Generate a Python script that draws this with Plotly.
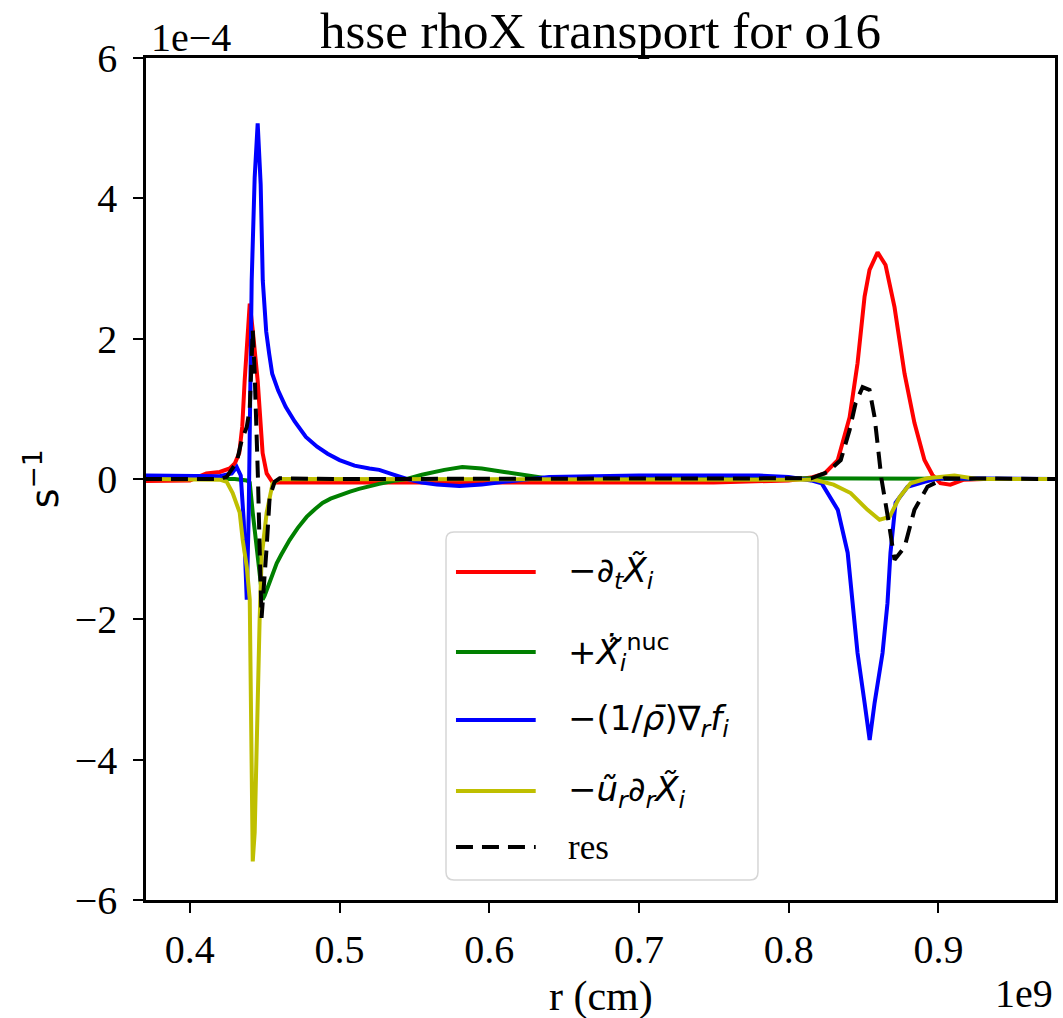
import plotly.graph_objects as go

# ---------------- data (r in 1e9 cm, values in 1e-4 s^-1) ----------------
R_UNIT = 1e9
V_UNIT = 1e-4

r_red = [0.370, 0.400, 0.411, 0.420, 0.4266, 0.4300, 0.4330, 0.4350, 0.4366, 0.4386,
         0.4400, 0.4420, 0.4433, 0.4453, 0.4486, 0.4513, 0.4553, 0.4700, 0.5500, 0.6500,
         0.7500, 0.8000, 0.8150, 0.8240, 0.8328, 0.8407, 0.8460, 0.8507, 0.8540, 0.8594,
         0.8647, 0.8707, 0.8774, 0.8840, 0.8907, 0.8960, 0.9013, 0.9080, 0.9170, 0.9300,
         0.9780]
v_red = [-0.03, -0.02, 0.08, 0.10, 0.15, 0.22, 0.37, 0.75, 1.40, 2.12,
         2.50, 2.12, 1.88, 1.40, 0.37, 0.08, -0.05, -0.05, -0.05, -0.05,
         -0.05, -0.02, 0.02, 0.08, 0.27, 0.88, 1.65, 2.60, 2.98, 3.23,
         3.05, 2.45, 1.50, 0.80, 0.27, 0.06, -0.06, -0.08, -0.01, 0.0,
         0.0]

r_green = [0.370, 0.430, 0.4380, 0.4400, 0.4420, 0.4486, 0.4500, 0.4520, 0.4553, 0.4580,
           0.4610, 0.4666, 0.4720, 0.4780, 0.4835, 0.4886, 0.4940, 0.5000, 0.5070, 0.5130,
           0.5200, 0.5265, 0.5380, 0.5450, 0.5550, 0.5700, 0.5820, 0.5950, 0.6100, 0.6250,
           0.6380, 0.6600, 0.8000, 0.9780]
v_green = [0.0, 0.0, -0.02, -0.05, -0.48, -1.72, -1.66, -1.55, -1.34, -1.20,
           -1.08, -0.87, -0.70, -0.54, -0.43, -0.34, -0.28, -0.23, -0.18, -0.14,
           -0.10, -0.07, -0.02, 0.0, 0.06, 0.13, 0.17, 0.15, 0.10, 0.05,
           0.01, 0.0, 0.01, 0.0]

r_blue = [0.370, 0.400, 0.420, 0.428, 0.4313, 0.4340, 0.4360, 0.4380, 0.4393, 0.4413,
          0.4433, 0.4453, 0.4473, 0.4487, 0.4510, 0.4530, 0.4550, 0.4590, 0.4640, 0.4700,
          0.4775, 0.4850, 0.4920, 0.5000, 0.5100, 0.5200, 0.5265, 0.5350, 0.5450, 0.5550,
          0.5650, 0.5800, 0.5950, 0.6100, 0.6250, 0.6400, 0.7000, 0.7800, 0.8000, 0.8150,
          0.8220, 0.8328, 0.8394, 0.8427, 0.8460, 0.8507, 0.8541, 0.8574, 0.8627, 0.8660,
          0.8680, 0.8714, 0.8794, 0.8907, 0.9000, 0.9780]
v_blue = [0.05, 0.05, 0.04, 0.08, 0.17, 0.05, -0.60, -1.72, -0.50, 2.83,
          4.30, 5.07, 4.20, 2.83, 2.10, 1.78, 1.50, 1.26, 1.03, 0.82,
          0.60, 0.46, 0.36, 0.27, 0.19, 0.15, 0.13, 0.07, 0.0, -0.05,
          -0.08, -0.10, -0.08, -0.04, 0.0, 0.03, 0.05, 0.05, 0.03, -0.02,
          -0.06, -0.44, -1.05, -1.77, -2.48, -3.19, -3.72, -3.19, -2.48, -1.77,
          -1.05, -0.34, -0.11, -0.04, 0.01, 0.0]

r_yellow = [0.370, 0.420, 0.4246, 0.4286, 0.4333, 0.4353, 0.4380, 0.4400, 0.4420, 0.4433,
            0.4466, 0.4480, 0.4513, 0.4553, 0.4600, 0.8000, 0.8174, 0.8300, 0.8414, 0.8527,
            0.8607, 0.8674, 0.8740, 0.8814, 0.8927, 0.9107, 0.9260, 0.9780]
v_yellow = [0.0, -0.01, -0.04, -0.20, -0.48, -0.87, -1.25, -1.72, -5.45, -5.04,
            -2.00, -1.10, -0.48, -0.06, 0.0, 0.0, -0.01, -0.08, -0.20, -0.44,
            -0.58, -0.54, -0.26, -0.06, 0.01, 0.05, 0.0, 0.0]

r_res = [0.370, 0.420, 0.4246, 0.4313, 0.4346, 0.4380, 0.4400, 0.4413, 0.4420, 0.4433,
         0.4443, 0.4455, 0.4466, 0.4479, 0.4513, 0.4533, 0.4566, 0.4600, 0.5000, 0.8000,
         0.8150, 0.8260, 0.8348, 0.8407, 0.8447, 0.8494, 0.8540, 0.8574, 0.8620, 0.8667,
         0.8707, 0.8774, 0.8840, 0.8927, 0.9040, 0.9780]
v_res = [0.0, 0.0, 0.03, 0.24, 0.55, 0.74, 1.00, 1.60, 2.12, 1.50,
         0.94, 0.0, -0.97, -1.98, -0.97, -0.26, -0.04, 0.01, 0.0, 0.0,
         0.01, 0.10, 0.27, 0.70, 1.08, 1.31, 1.27, 0.88, 0.0, -0.60,
         -1.15, -0.97, -0.44, -0.11, 0.01, 0.0]

x_tick_vals = [0.4, 0.5, 0.6, 0.7, 0.8, 0.9]
x_tick_text = ["0.4", "0.5", "0.6", "0.7", "0.8", "0.9"]
y_tick_vals = [-6, -4, -2, 0, 2, 4, 6]
y_tick_text = ["\u22126", "\u22124", "\u22122", "0", "2", "4", "6"]

legend_labels = [
    "\u2212\u2202<sub><i>t</i></sub><i>X\u0303</i><sub><i>i</i></sub>",
    "+<i>X\u0307\u0303</i><sub><i>i</i></sub><sup>nuc</sup>",
    "\u2212(1/<i>\u03c1\u0304</i>)\u2207<sub><i>r</i></sub><i>f</i><sub><i>i</i></sub>",
    "\u2212<i>u\u0303</i><sub><i>r</i></sub>\u2202<sub><i>r</i></sub><i>X\u0303</i><sub><i>i</i></sub>",
    "res",
]

# ---------------- figure ----------------
W, H = 1063, 1018
ML, MR, MT, MB = 146, 5, 58, 118
PW, PH = W - ML - MR, H - MT - MB

def px_x(p):
    return (p - ML) / PW

def px_y(p):
    return (H - MB - p) / PH

SERIF = "Liberation Serif, Times New Roman, serif"
SANS = "DejaVu Sans, sans-serif"

LW = 4
styles = [
    dict(color="#ff0000", width=LW),
    dict(color="#008000", width=LW),
    dict(color="#0000ff", width=LW),
    dict(color="#bfbf00", width=LW),
    dict(color="#000000", width=LW, dash="17px,9px"),
]
series = [(r_red, v_red), (r_green, v_green), (r_blue, v_blue),
          (r_yellow, v_yellow), (r_res, v_res)]

fig = go.Figure()
for (rs, vs), st, lab in zip(series, styles, legend_labels):
    fig.add_trace(go.Scatter(
        x=[r * R_UNIT for r in rs], y=[v * V_UNIT for v in vs],
        mode="lines", line=st, name=lab, showlegend=False,
    ))

axis_common = dict(
    showline=True, mirror=True, linecolor="black", linewidth=2.5,
    ticks="outside", ticklen=10, tickwidth=2, tickcolor="black",
    showgrid=False, zeroline=False,
    tickfont=dict(family=SERIF, size=40, color="black"),
)

fig.update_layout(
    width=W, height=H,
    margin=dict(l=ML, r=MR, t=MT, b=MB),
    paper_bgcolor="white", plot_bgcolor="white",
    xaxis=dict(range=[0.3707 * R_UNIT, 0.9779 * R_UNIT],
               tickvals=[v * R_UNIT for v in x_tick_vals], ticktext=x_tick_text,
               ticklabelstandoff=2, **axis_common),
    yaxis=dict(range=[-6 * V_UNIT, 6 * V_UNIT],
               tickvals=[v * V_UNIT for v in y_tick_vals], ticktext=y_tick_text,
               ticklabelstandoff=8, **axis_common),
)

ann = []
ann.append(dict(text="hsse rhoX transport for o16", x=0.5, y=px_y(31), xref="paper", yref="paper",
                xanchor="center", yanchor="middle", showarrow=False,
                font=dict(family=SERIF, size=51, color="black")))
ann.append(dict(text="r (cm)", x=0.5, y=px_y(996), xref="paper", yref="paper",
                xanchor="center", yanchor="middle", showarrow=False,
                font=dict(family=SERIF, size=42, color="black")))
ann.append(dict(text="s<sup>\u22121</sup>", x=px_x(42), y=0.5, xref="paper", yref="paper",
                xanchor="center", yanchor="middle", showarrow=False, textangle=-90,
                font=dict(family=SANS, size=38, color="black")))
ann.append(dict(text="1e\u22124", x=px_x(149), y=px_y(37), xref="paper", yref="paper",
                xanchor="left", yanchor="middle", showarrow=False,
                font=dict(family=SERIF, size=40, color="black")))
ann.append(dict(text="1e9", x=1.0, y=px_y(993), xref="paper", yref="paper",
                xanchor="right", yanchor="middle", showarrow=False,
                font=dict(family=SERIF, size=40, color="black")))

shapes = []
bx0, bx1, by0, by1 = 447, 760, 532, 880
rad = 8
def P(xp, yp):
    return f"{px_x(xp):.5f},{px_y(yp):.5f}"
path = (f"M {P(bx0 + rad, by0)} L {P(bx1 - rad, by0)} Q {P(bx1, by0)} {P(bx1, by0 + rad)} "
        f"L {P(bx1, by1 - rad)} Q {P(bx1, by1)} {P(bx1 - rad, by1)} "
        f"L {P(bx0 + rad, by1)} Q {P(bx0, by1)} {P(bx0, by1 - rad)} "
        f"L {P(bx0, by0 + rad)} Q {P(bx0, by0)} {P(bx0 + rad, by0)} Z")
shapes.append(dict(type="path", path=path, xref="paper", yref="paper", layer="above",
                   fillcolor="rgba(255,255,255,0.8)", line=dict(color="#d6d6d6", width=1.5)))
entry_y = [572, 652, 720, 791, 847]
for ey, st, lab in zip(entry_y, styles, legend_labels):
    shapes.append(dict(type="line", xref="paper", yref="paper", layer="above",
                       x0=px_x(457), x1=px_x(537), y0=px_y(ey), y1=px_y(ey),
                       line=st))
    fam = SERIF if lab == "res" else SANS
    size = 35 if lab == "res" else 34
    ann.append(dict(text=lab, x=px_x(567), y=px_y(ey), xref="paper", yref="paper",
                    xanchor="left", yanchor="middle", showarrow=False,
                    font=dict(family=fam, size=size, color="black")))

fig.update_layout(annotations=ann, shapes=shapes)
fig.write_html("out.html")
